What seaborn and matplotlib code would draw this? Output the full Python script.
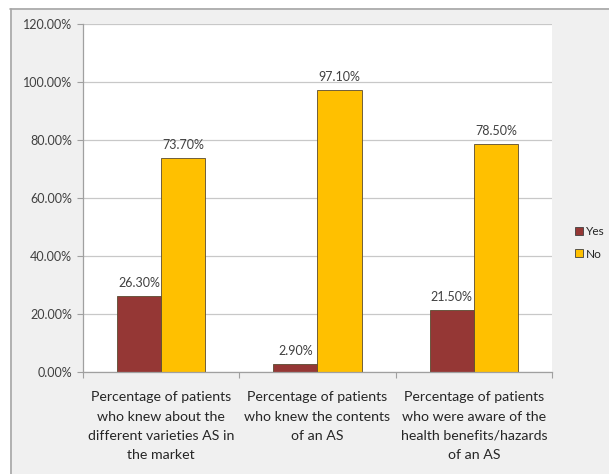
import matplotlib
matplotlib.use("Agg")
import matplotlib.pyplot as plt
import seaborn as sns
import pandas as pd
from matplotlib.patches import Rectangle
from matplotlib.lines import Line2D
from matplotlib.ticker import FixedLocator

categories = [
    "Percentage of patients\nwho knew about the\ndifferent varieties AS in\nthe market",
    "Percentage of patients\nwho knew the contents\nof an AS",
    "Percentage of patients\nwho were aware of the\nhealth benefits/hazards\nof an AS",
]
yes_values = [26.3, 2.9, 21.5]
no_values = [73.7, 97.1, 78.5]
series_names = ["Yes", "No"]
colors = ["#953735", "#FFC000"]
yticks = [0, 20, 40, 60, 80, 100, 120]

df = pd.DataFrame({
    "category": categories * 2,
    "series": [series_names[0]] * 3 + [series_names[1]] * 3,
    "value": yes_values + no_values,
})

sns.set_theme(style="white")
plt.rcParams['font.family'] = ['Lato', 'DejaVu Sans']

W, H = 609, 474
fig = plt.figure(figsize=(W / 100, H / 100), dpi=100)
fig.patch.set_facecolor("white")
bg = Rectangle((10 / W, 0), 1 - 10 / W, 1 - 8 / H, transform=fig.transFigure,
               facecolor="#f0f0f0", edgecolor="none", zorder=-10)
fig.patches.append(bg)
fig.add_artist(Line2D([10 / W, 1], [1 - 8.5 / H, 1 - 8.5 / H], transform=fig.transFigure,
                      color="#a6a6a6", lw=1.2))
fig.add_artist(Line2D([10.5 / W, 10.5 / W], [0, 1 - 8.5 / H], transform=fig.transFigure,
                      color="#a6a6a6", lw=1.2))

left, right, top, bottom = 83, 552, 24, 372
ax = fig.add_axes([left / W, 1 - bottom / H, (right - left) / W, (bottom - top) / H])
ax.set_facecolor("white")

sns.barplot(data=df, x="category", y="value", hue="series", palette=colors,
            width=0.565, ax=ax, edgecolor="#5a4a30", linewidth=0.6, saturation=1,
            legend=False)

ax.set_ylim(0, 120)
ax.set_xlim(-0.5, 2.5)
ax.set_yticks(yticks)
ax.set_yticklabels([f"{v:.2f}%" for v in yticks], fontsize=9, color="#404040")
ax.yaxis.grid(True, color="#c8c8c8", lw=0.9)
ax.set_axisbelow(True)
ax.set_xlabel("")
ax.set_ylabel("")
ax.set_xticks([0, 1, 2])
ax.set_xticklabels(categories, fontsize=10.2, color="#262626", linespacing=1.72)
ax.tick_params(axis="x", length=0, pad=14)
ax.tick_params(axis="y", length=4, width=0.8, color="#a0a0a0", left=True, pad=4)
ax.xaxis.set_minor_locator(FixedLocator([-0.5, 0.5, 1.5, 2.5]))
ax.tick_params(axis="x", which="minor", length=4, width=0.8, color="#a0a0a0", bottom=True)

for s in ["top", "right"]:
    ax.spines[s].set_visible(False)
for s in ["left", "bottom"]:
    ax.spines[s].set_color("#a0a0a0")
    ax.spines[s].set_linewidth(0.9)

for cont in ax.containers:
    ax.bar_label(cont, labels=[f"{v:.2f}%" for v in cont.datavalues],
                 fontsize=9, color="#404040", padding=5)

handles = [Rectangle((0, 0), 1, 1, facecolor=c, edgecolor="#404040", lw=0.6) for c in colors]
fig.legend(handles, series_names, loc="center left", bbox_to_anchor=(575 / W, 1 - 243 / H),
           frameon=False, fontsize=8.6, handlelength=0.65, handleheight=0.65,
           handletextpad=0.3, labelspacing=0.95, borderpad=0, borderaxespad=0)

fig.savefig("out.png", dpi=100)
